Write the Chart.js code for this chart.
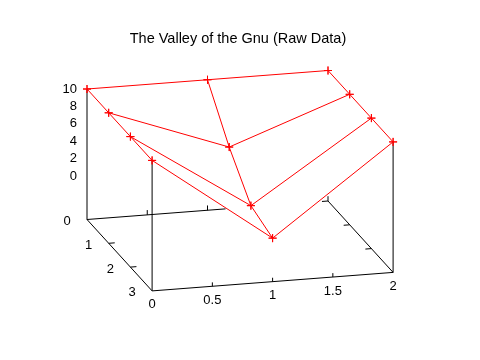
<!DOCTYPE html>
<html lang="en">
<head>
  <meta charset="UTF-8">
  <title>The Valley of the Gnu (Raw Data)</title>
  <script src="https://cdn.jsdelivr.net/npm/chart.js"></script>
  <style>
    html, body { margin: 0; padding: 0; background: #fff; }
    #gnu { display: block; }
  </style>
</head>
<body>
<canvas id="gnu" width="480" height="360"></canvas>
<script>
  // raw grid: x = 0..2, y = 0..3
  const xValues = [0, 1, 2];
  const yValues = [0, 1, 2, 3];
  const zAtX0 = [10, 10, 10, 10];
  const zAtX1 = [10, 5, 1, 0];
  const zAtX2 = [10, 10, 10, 10];
  const zColumns = [zAtX0, zAtX1, zAtX2];

  const xTicks = [0, 0.5, 1, 1.5, 2];
  const yTicks = [0, 1, 2, 3];
  const zTicks = [0, 2, 4, 6, 8, 10];
  const titleText = "The Valley of the Gnu (Raw Data)";

  // view (parallel projection) - ticslevel 0.5 puts the base at z = -5
  const zBase = -5;
  const origin = [87, 176];          // where (0,0,0) lands
  const ux = [120.5, -9.25];
  const uy = [21.7, 23.8];
  const uz = -8.7;
  const backEdgeEnd = 1.15;          // back base edge only shows up to here

  function proj(x, y, z) {
    return {
      x: origin[0] + ux[0] * x + uy[0] * y,
      y: origin[1] + ux[1] * x + uy[1] * y + uz * z
    };
  }

  function seg(a, b) {
    return {
      data: [proj(a[0], a[1], a[2]), proj(b[0], b[1], b[2])],
      showLine: true,
      borderColor: '#000',
      borderWidth: 1,
      pointRadius: 0,
      order: 2
    };
  }

  const datasets = [];

  // base box + verticals
  const xMin = xValues[0], xMax = xValues[xValues.length - 1];
  const yMin = yValues[0], yMax = yValues[yValues.length - 1];
  const zTop = 10;
  datasets.push(seg([xMin, yMax, zBase], [xMax, yMax, zBase]));
  datasets.push(seg([xMin, yMin, zBase], [xMin, yMax, zBase]));
  datasets.push(seg([xMax, yMin, zBase], [xMax, yMax, zBase]));
  datasets.push(seg([xMin, yMin, zBase], [backEdgeEnd, yMin, zBase]));
  datasets.push(seg([xMin, yMin, zBase], [xMin, yMin, zTop]));
  datasets.push(seg([xMin, yMax, zBase], [xMin, yMax, zTop]));
  datasets.push(seg([xMax, yMax, zBase], [xMax, yMax, zTop]));

  // tic marks
  [0.5, 1, 1.5].forEach(t => datasets.push(seg([t, yMax, zBase], [t, yMax, zBase + 0.45])));
  [0.5, 1, 2].forEach(t => datasets.push(seg([t, yMin, zBase], [t, yMin, zBase + 0.55])));
  [1, 2].forEach(t => datasets.push(seg([xMin, t, zBase], [xMin + 0.05, t, zBase])));
  [0, 1, 2].forEach(t => datasets.push(seg([xMax, t, zBase], [xMax - 0.05, t, zBase])));

  // surface mesh: lines of constant y, then lines of constant x
  const surf = {
    showLine: true,
    borderColor: '#ff0000',
    borderWidth: 1,
    pointStyle: 'cross',
    pointRadius: 4,
    pointBorderColor: '#ff0000',
    pointBorderWidth: 1,
    order: 1
  };
  yValues.forEach((y, j) => {
    datasets.push(Object.assign({}, surf, {
      data: xValues.map((x, i) => proj(x, y, zColumns[i][j]))
    }));
  });
  xValues.forEach((x, i) => {
    datasets.push(Object.assign({}, surf, {
      data: yValues.map((y, j) => proj(x, y, zColumns[i][j]))
    }));
  });

  const labelPlugin = {
    id: 'gnuLabels',
    afterDraw(chart) {
      const ctx = chart.ctx;
      const sx = chart.scales.x, sy = chart.scales.y;
      const put = (p, dx, dy, text, align) => {
        ctx.textAlign = align;
        ctx.fillText(text, sx.getPixelForValue(p.x) + dx, sy.getPixelForValue(p.y) + dy);
      };
      ctx.save();
      ctx.fillStyle = '#000';
      ctx.textBaseline = 'middle';
      ctx.font = '13px "Liberation Sans", Arial, sans-serif';
      zTicks.forEach(t => put(proj(xMin, yMin, t), -10, 0, String(t), 'right'));
      yTicks.forEach(t => put(proj(xMin, t, zBase), -20, 2, String(t), 'center'));
      xTicks.forEach(t => put(proj(t, yMax, zBase), 0, 14, String(t), 'center'));
      ctx.font = '14.5px "Liberation Sans", Arial, sans-serif';
      ctx.textAlign = 'center';
      ctx.fillText(titleText, sx.getPixelForValue(238), sy.getPixelForValue(39));
      ctx.restore();
    }
  };

  new Chart('gnu', {
    type: 'scatter',
    data: { datasets: datasets },
    options: {
      responsive: false,
      animation: false,
      layout: { padding: 0, autoPadding: false },
      plugins: {
        legend: { display: false },
        tooltip: { enabled: false },
        title: { display: false }
      },
      scales: {
        x: { type: 'linear', min: 0, max: 480, display: false },
        y: { type: 'linear', min: 0, max: 360, reverse: true, display: false }
      }
    },
    plugins: [labelPlugin]
  });
</script>
</body>
</html>
